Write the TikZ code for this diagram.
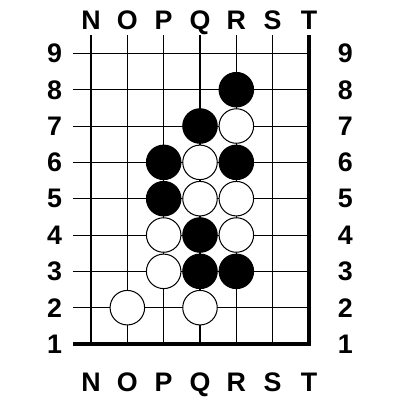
\documentclass[tikz,border=0pt]{standalone}
\usepackage{fontspec}
\setmainfont{Liberation Sans}

\begin{document}
\begin{tikzpicture}[x=1cm, y=1cm,
  lbl/.style={font=\fontsize{21}{21}\selectfont\bfseries, text depth=0pt},
  stone/.style={circle, draw, line width=0.8pt, minimum size=0.95cm, inner sep=0pt},
  bstone/.style={stone, fill=black},
  wstone/.style={stone, fill=white}]
  \useasboundingbox (-2.505,-0.541) rectangle (8.505,10.469);
  % grid lines (open to the top and left)
  \foreach \y in {2,...,9} \draw[line width=0.8pt] (-0.5,\y) -- (6,\y);
  \foreach \x in {0,...,5} \draw[line width=0.8pt] (\x,1) -- (\x,9.5);
  % board edges: bottom and right
  \draw[line width=2.4pt] (-0.5,1) -- (6,1) -- (6,9.5);
  % coordinates
  \foreach \c [count=\i from 0] in {N,O,P,Q,R,S,T} {
    \node[lbl] (top\c) at (\i,9.92) {\c};
    \node[lbl] (bot\c) at (\i,-0.05) {\c};
  }
  \foreach \r in {1,...,9} {
    \node[lbl] (left\r) at (-1,\r) {\r};
    \node[lbl] (right\r) at (7,\r) {\r};
  }
  % black stones
  \foreach \x/\y/\n in {4/8/R8, 3/7/Q7, 2/6/P6, 4/6/R6, 2/5/P5, 3/4/Q4, 3/3/Q3, 4/3/R3}
    \node[bstone] (\n) at (\x,\y) {};
  % white stones
  \foreach \x/\y/\n in {4/7/R7, 3/6/Q6, 3/5/Q5, 4/5/R5, 2/4/P4, 4/4/R4, 2/3/P3, 1/2/O2, 3/2/Q2}
    \node[wstone] (\n) at (\x,\y) {};
\end{tikzpicture}
\end{document}
